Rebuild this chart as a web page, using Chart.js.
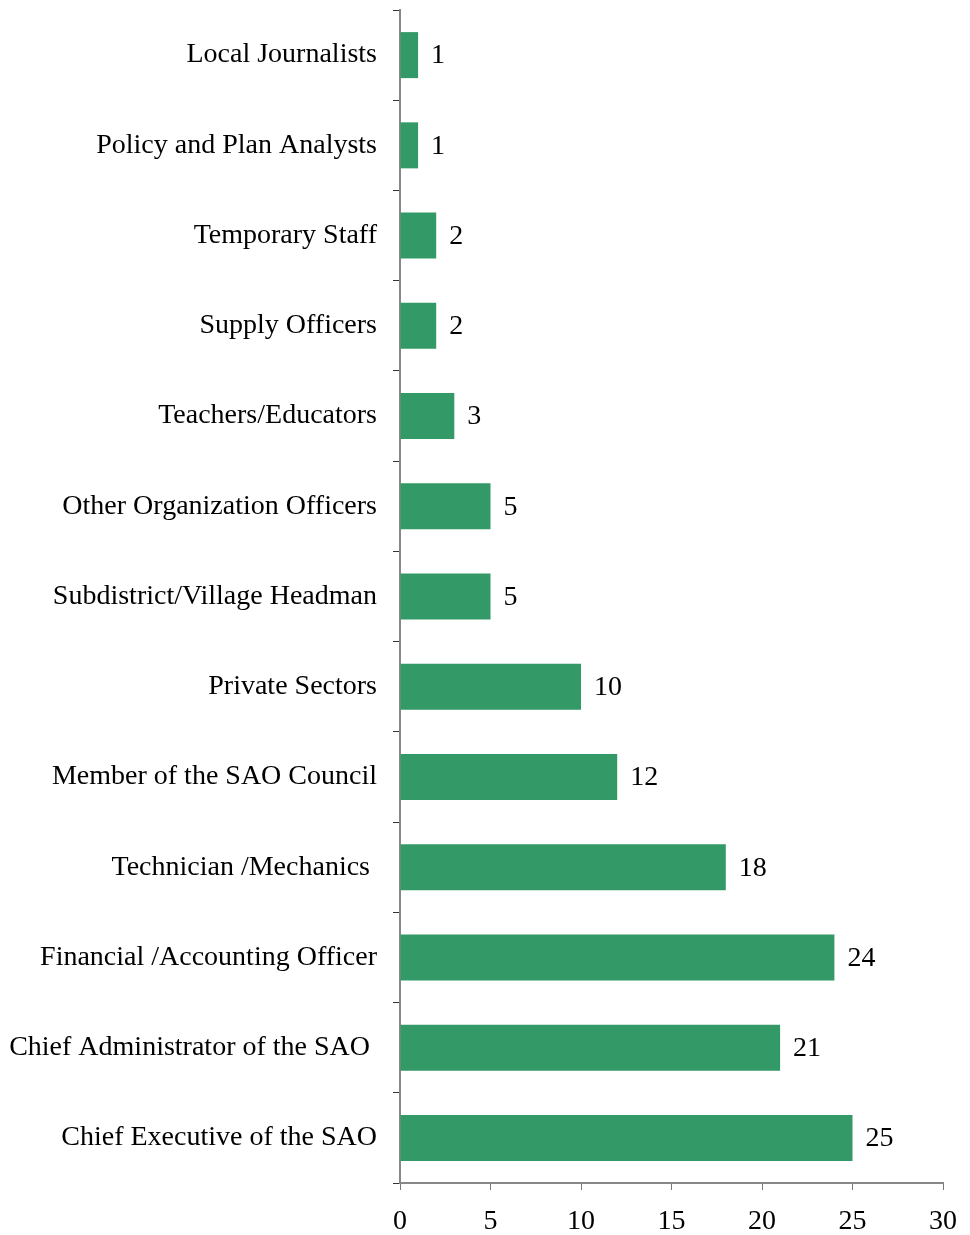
<!DOCTYPE html>
<html>
<head>
<meta charset="utf-8">
<script src="https://cdn.jsdelivr.net/npm/chart.js@4/dist/chart.umd.min.js"></script>
<style>
  html, body { margin: 0; padding: 0; background: #fff; }
  #wrap { width: 970px; height: 1235px; position: relative; }
</style>
</head>
<body>
<div id="wrap"><canvas id="staffChart"></canvas></div>
<script>
// respondents by position (top to bottom)
const positions = [
    'Local Journalists',
    'Policy and Plan Analysts',
    'Temporary Staff',
    'Supply Officers',
    'Teachers/Educators',
    'Other Organization Officers',
    'Subdistrict/Village Headman',
    'Private Sectors',
    'Member of the SAO Council',
    'Technician /Mechanics ',
    'Financial /Accounting Officer',
    'Chief Administrator of the SAO ',
    'Chief Executive of the SAO'
];
const counts = [1, 1, 2, 2, 3, 5, 5, 10, 12, 18, 24, 21, 25];
const xTicks = [0, 5, 10, 15, 20, 25, 30];

const labelFont = { family: "'Liberation Serif', 'Times New Roman', serif", size: 28 };

// writes the count just right of each bar
var valueLabels = {
    id: 'valueLabels',
    afterDatasetsDraw: function (chart) {
        var ctx = chart.ctx;
        var meta = chart.getDatasetMeta(0);
        ctx.save();
        ctx.font = labelFont.size + 'px ' + labelFont.family;
        ctx.fillStyle = '#000';
        ctx.textAlign = 'left';
        ctx.textBaseline = 'middle';
        meta.data.forEach(function (bar, i) {
            ctx.fillText(String(counts[i]), bar.x + 13, bar.y + 1);
        });
        ctx.restore();
    }
};

const chartCanvas = document.getElementById('staffChart');
var chart = new Chart(chartCanvas, {
    type: 'bar',
    data: {
        labels: positions,
        datasets: [{
            data: counts,
            backgroundColor: '#339966',
            borderWidth: 0,
            categoryPercentage: 1,
            barPercentage: 0.51
        }]
    },
    options: {
        indexAxis: 'y',
        responsive: true,
        maintainAspectRatio: false,
        animation: false,
        layout: {
            padding: { top: 10, right: 27, bottom: 0, left: 0 }
        },
        plugins: {
            legend: { display: false },
            tooltip: { enabled: false }
        },
        scales: {
            y: {
                afterFit: function (scale) {
                    scale.width = 400;
                    scale.paddingTop = 0;
                    scale.paddingBottom = 0;
                },
                border: { color: '#888', width: 2 },
                grid: {
                    offset: true,
                    drawOnChartArea: false,
                    drawTicks: true,
                    tickLength: 7,
                    color: '#333'
                },
                ticks: {
                    color: '#000',
                    font: labelFont,
                    padding: 16,
                    autoSkip: false
                }
            },
            x: {
                min: 0,
                max: 30,
                afterFit: function (scale) {
                    scale.height = 52;
                    scale.paddingLeft = 0;
                    scale.paddingRight = 0;
                },
                afterBuildTicks: function (scale) {
                    scale.ticks = xTicks.map(function (v) { return { value: v }; });
                },
                border: { color: '#888', width: 2 },
                grid: {
                    drawOnChartArea: false,
                    drawTicks: true,
                    tickLength: 7,
                    color: '#777'
                },
                ticks: {
                    color: '#000',
                    font: labelFont,
                    padding: 15,
                    maxRotation: 0
                }
            }
        }
    },
    plugins: [valueLabels]
});
</script>
</body>
</html>
